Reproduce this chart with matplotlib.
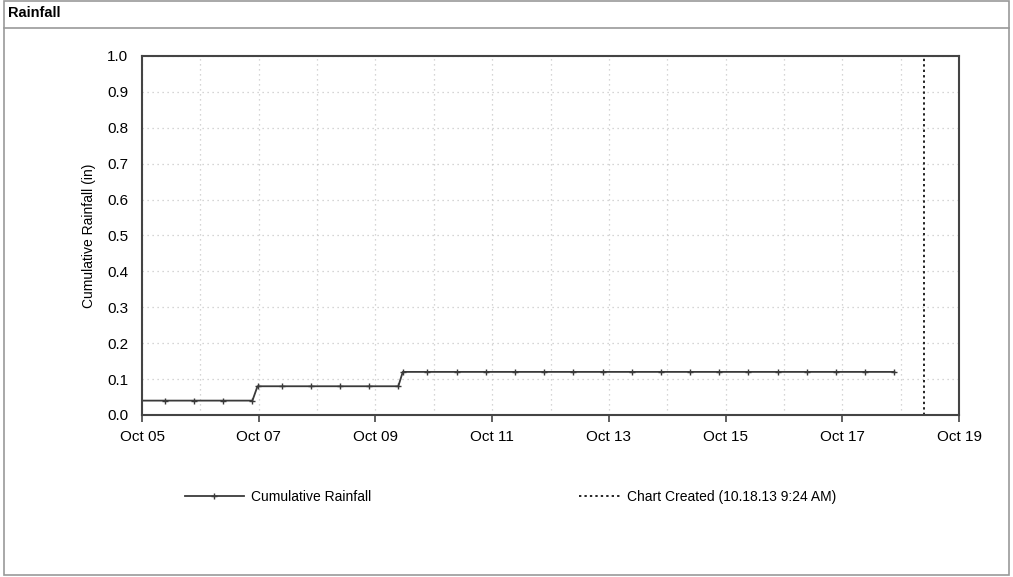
import pandas as pd
import matplotlib
matplotlib.use("Agg")
import matplotlib.pyplot as plt
import matplotlib.dates as mdates
from matplotlib.patches import Rectangle
from matplotlib.lines import Line2D

plt.rcParams['font.family'] = ['Liberation Sans', 'DejaVu Sans']

# readings (every 12 h, plus the two step points)
times = [
    "2013-10-04 21:24", "2013-10-05 09:24", "2013-10-05 21:24",
    "2013-10-06 09:24", "2013-10-06 21:24", "2013-10-06 23:30",
    "2013-10-07 09:24", "2013-10-07 21:24", "2013-10-08 09:24",
    "2013-10-08 21:24", "2013-10-09 09:24", "2013-10-09 11:15",
    "2013-10-09 21:24", "2013-10-10 09:24", "2013-10-10 21:24",
    "2013-10-11 09:24", "2013-10-11 21:24", "2013-10-12 09:24",
    "2013-10-12 21:24", "2013-10-13 09:24", "2013-10-13 21:24",
    "2013-10-14 09:24", "2013-10-14 21:24", "2013-10-15 09:24",
    "2013-10-15 21:24", "2013-10-16 09:24", "2013-10-16 21:24",
    "2013-10-17 09:24", "2013-10-17 21:24",
]
rain = [
    0.04, 0.04, 0.04, 0.04, 0.04, 0.08,
    0.08, 0.08, 0.08, 0.08, 0.08, 0.12,
    0.12, 0.12, 0.12, 0.12, 0.12, 0.12,
    0.12, 0.12, 0.12, 0.12, 0.12, 0.12,
    0.12, 0.12, 0.12, 0.12, 0.12,
]
created = "2013-10-18 09:24"
x_start, x_end = "2013-10-05", "2013-10-19"

t = pd.to_datetime(times)
t_created = pd.Timestamp(created)

fig = plt.figure(figsize=(10.13, 5.77), dpi=100)
ax = fig.add_axes([0.1402, 0.2808, 0.8065, 0.6222])

line_col = '#3a3a3a'
ax.plot(t, rain, color=line_col, lw=1.3, marker='+', ms=5, mew=1.0)
ax.axvline(t_created, color='#222222', lw=1.4, ls=(0, (1.2, 1.6)))

ax.set_xlim(pd.Timestamp(x_start), pd.Timestamp(x_end))
ax.set_ylim(0, 1.0)
ax.set_yticks([i / 10 for i in range(11)])
ax.yaxis.set_major_formatter(plt.FuncFormatter(lambda v, p: f"{v:.1f}"))
ax.xaxis.set_major_locator(mdates.DayLocator(bymonthday=range(1, 32, 2)))
ax.xaxis.set_minor_locator(mdates.DayLocator())
ax.xaxis.set_major_formatter(mdates.DateFormatter('%b %d'))

ax.grid(True, which='both', axis='x', color='#c8c8c8', ls=(0, (1, 3)), lw=0.9)
ax.grid(True, which='major', axis='y', color='#c8c8c8', ls=(0, (1, 3)), lw=0.9)
ax.tick_params(axis='x', which='major', direction='out', length=5, width=1.2,
               color='#444444', labelsize=11, pad=6)
ax.tick_params(axis='x', which='minor', length=0)
ax.tick_params(axis='y', length=0, labelsize=11, pad=10)
for s in ax.spines.values():
    s.set_color('#444444')
    s.set_linewidth(1.5)

ax.set_ylabel('Cumulative Rainfall (in)', fontsize=10, labelpad=8)

# title bar and frame
fig.text(0.008, 0.978, 'Rainfall', fontsize=10.5, fontweight='bold', va='center', ha='left')
fig.add_artist(Line2D([0.004, 0.996], [0.952, 0.952], transform=fig.transFigure,
                      color='#999999', lw=1.2))
fig.add_artist(Rectangle((0.004, 0.004), 0.992, 0.994, transform=fig.transFigure,
                         fill=False, edgecolor='#999999', lw=1.2))

h_rain = Line2D([], [], color=line_col, lw=1.3, marker='+', ms=5, mew=1.0, markevery=[1])
h_created = Line2D([], [], color='#222222', lw=1.4, ls=(0, (1.2, 1.6)))
leg_y = 1 - 497 / 577
leg1 = fig.legend([h_rain], ['Cumulative Rainfall'], loc='center left',
                  bbox_to_anchor=(172 / 1013, leg_y), frameon=False, fontsize=10,
                  handlelength=4.3, handletextpad=0.5)
fig.legend([h_created], ['Chart Created (10.18.13 9:24 AM)'], loc='center left',
           bbox_to_anchor=(566 / 1013, leg_y), frameon=False, fontsize=10,
           handlelength=3.0, handletextpad=0.5)

fig.savefig('out.png', dpi=100)
